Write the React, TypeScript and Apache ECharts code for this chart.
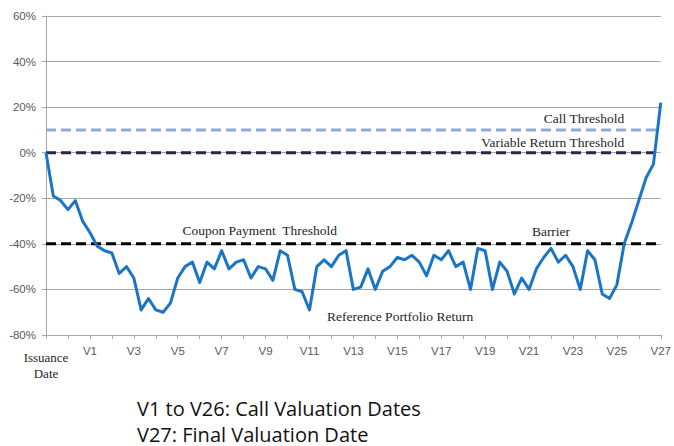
import React, { useEffect, useRef } from "react";
import * as echarts from "echarts";

// Reference portfolio return (%), 3 observations per tick interval, Issuance Date -> V27
const portfolioReturn = [
  0, -19, -21, -25, -21, -30, -35, -41, -43, -44,
  -53, -50, -55, -69, -64, -69, -70, -66, -55, -50,
  -48, -57, -48, -51, -43, -51, -48, -47, -55, -50,
  -51, -56, -43, -45, -60, -61, -69, -50, -47, -50,
  -45, -43, -60, -59, -51, -60, -52, -50, -46, -47,
  -45, -48, -54, -45, -47, -43, -50, -48, -60, -42,
  -43, -60, -48, -52, -62, -55, -60, -51, -46, -42,
  -48, -45, -50, -60, -43, -47, -62, -64, -58, -40,
  -31, -21, -11, -5, 22,
];

// x tick labels (one tick every 3 observations); every other one is shown
const xTickLabels = [
  "Issuance Date", "", "V1", "V2", "V3", "V4", "V5", "V6", "V7", "V8", "V9",
  "V10", "V11", "V12", "V13", "V14", "V15", "V16", "V17", "V18", "V19",
  "V20", "V21", "V22", "V23", "V24", "V25", "V26", "V27",
];

const callThreshold = 10;
const variableReturnThreshold = 0;
const barrierThreshold = -40;

const yMin = -80;
const yMax = 60;
const yStep = 20;

const footnotes = ["V1 to V26: Call Valuation Dates", "V27: Final Valuation Date"];

const SERIF = '"Liberation Serif", "Times New Roman", serif';
const SANS = '"Liberation Sans", Arial, sans-serif';

export default function App() {
  const ref = useRef<HTMLDivElement>(null);

  useEffect(() => {
    if (!ref.current) return;
    const chart = echarts.init(ref.current, undefined, { renderer: "svg" });
    const n = portfolioReturn.length;
    const xMax = n - 1;
    const perTick = xMax / (xTickLabels.length - 1);

    const flat = (v: number) => [
      [0, v],
      [xMax, v],
    ];

    const annoLabel = {
      show: true,
      fontFamily: SERIF,
      fontSize: 13.5,
      color: "#262626",
    };

    const option: any = {
      animation: false,
      backgroundColor: "#ffffff",
      grid: { left: 46, right: 11, top: 16, bottom: 111, containLabel: false },
      xAxis: {
        type: "value",
        min: 0,
        max: xMax,
        interval: perTick,
        splitLine: { show: false },
        axisLine: { show: true, onZero: false, lineStyle: { color: "#a6a6a6", width: 1 } },
        axisTick: { show: true, length: 4, lineStyle: { color: "#a6a6a6" } },
        axisLabel: {
          show: true,
          margin: 10,
          fontFamily: SANS,
          fontSize: 11.5,
          color: "#595959",
          showMinLabel: true,
          showMaxLabel: true,
          formatter: (v: number) => {
            const k = Math.round(v / perTick);
            if (k % 2 !== 0) return "";
            const t = xTickLabels[k] || "";
            if (k === 0) {
              return t
                .split(" ")
                .map((w) => "{d|" + w + "}")
                .join("\n");
            }
            return t;
          },
          rich: {
            d: {
              fontFamily: SERIF,
              fontSize: 13,
              color: "#262626",
              lineHeight: 16,
              padding: [8, 0, 0, 0],
            },
          },
        },
      },
      yAxis: {
        type: "value",
        min: yMin,
        max: yMax,
        interval: yStep,
        axisLine: { show: true, lineStyle: { color: "#a6a6a6", width: 1 } },
        axisTick: { show: true, length: 4, lineStyle: { color: "#a6a6a6" } },
        splitLine: { show: true, lineStyle: { color: "#a6a6a6", width: 1 } },
        axisLabel: {
          margin: 10,
          fontFamily: SANS,
          fontSize: 11.5,
          color: "#595959",
          formatter: "{value}%",
        },
      },
      series: [
        {
          name: "Call Threshold",
          type: "line",
          data: flat(callThreshold),
          symbol: "none",
          silent: true,
          lineStyle: { color: "#8eaadb", width: 3, type: [10, 5] },
          z: 2,
          markPoint: {
            symbol: "circle",
            symbolSize: 0,
            silent: true,
            data: [{ coord: [79, 14.8], value: 0 }],
            label: { ...annoLabel, position: "left", distance: 0, formatter: "Call Threshold" },
          },
        },
        {
          name: "Variable Return Threshold",
          type: "line",
          data: flat(variableReturnThreshold),
          symbol: "none",
          silent: true,
          lineStyle: { color: "#2b2548", width: 3, type: [10, 5] },
          z: 2,
          markPoint: {
            symbol: "circle",
            symbolSize: 0,
            silent: true,
            data: [{ coord: [79, 4.4], value: 0 }],
            label: {
              ...annoLabel,
              position: "left",
              distance: 0,
              formatter: "Variable Return Threshold",
            },
          },
        },
        {
          name: "Barrier",
          type: "line",
          data: flat(barrierThreshold),
          symbol: "none",
          silent: true,
          lineStyle: { color: "#000000", width: 3, type: [10, 5] },
          z: 2,
          markPoint: {
            symbol: "circle",
            symbolSize: 0,
            silent: true,
            data: [
              {
                coord: [29.2, -34.3],
                value: 0,
                label: { ...annoLabel, position: "inside", formatter: "Coupon Payment  Threshold" },
              },
              {
                coord: [69, -34.6],
                value: 0,
                label: { ...annoLabel, position: "inside", formatter: "Barrier" },
              },
            ],
          },
        },
        {
          name: "Reference Portfolio Return",
          type: "line",
          data: portfolioReturn.map((v, i) => [i, v]),
          symbol: "none",
          silent: true,
          lineStyle: { color: "#1b75c4", width: 3, join: "round" },
          z: 3,
          markPoint: {
            symbol: "circle",
            symbolSize: 0,
            silent: true,
            data: [{ coord: [38.4, -71.9], value: 0 }],
            label: {
              ...annoLabel,
              position: "right",
              distance: 0,
              formatter: "Reference Portfolio Return",
            },
          },
        },
      ],
      graphic: footnotes.map((t, i) => ({
        type: "text",
        x: 137,
        y: 408 + i * 26,
        silent: true,
        style: {
          text: t,
          fontFamily: '"Open Sans", "DejaVu Sans", sans-serif',
          fontSize: 20,
          fill: "#111111",
          align: "left",
          verticalAlign: "middle",
        },
      })),
    };

    chart.setOption(option);
    return () => chart.dispose();
  }, []);

  return (
    <div
      ref={ref}
      style={{ position: "fixed", left: 0, top: 0, width: 674, height: 446, background: "#fff" }}
    />
  );
}
